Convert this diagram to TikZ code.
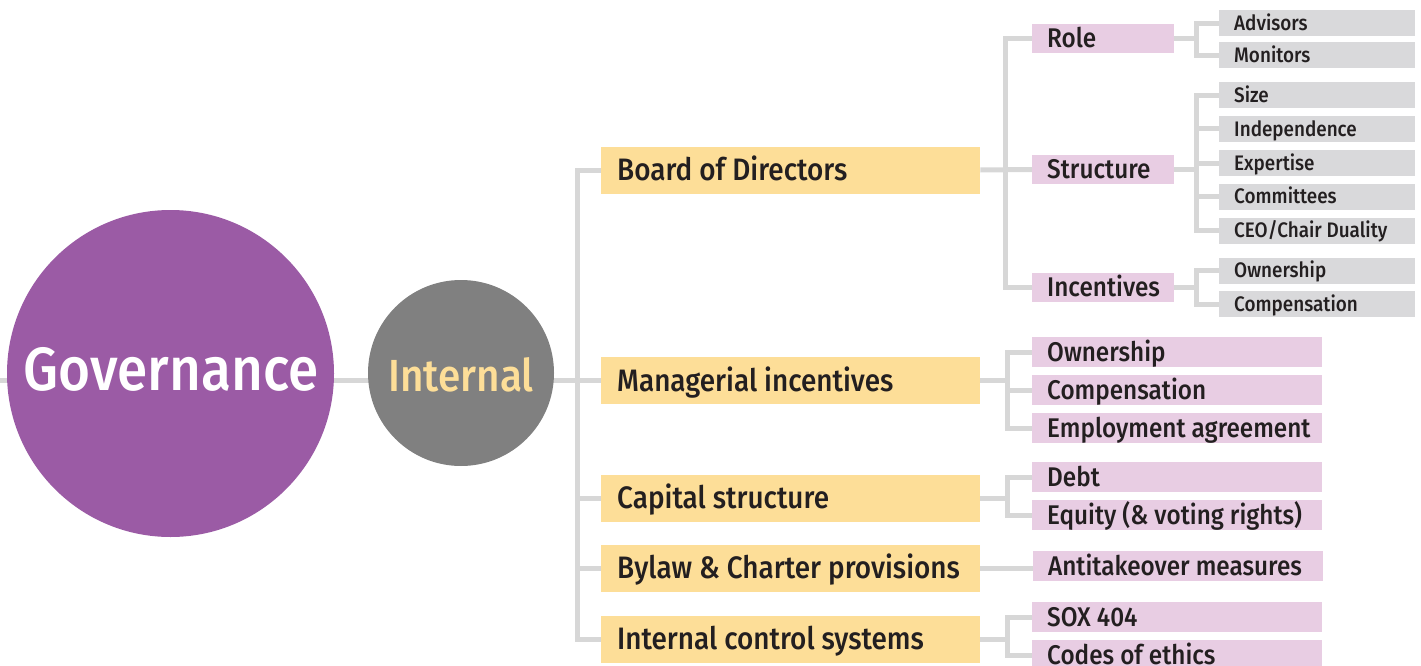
\documentclass[tikz,border=0pt]{standalone}
\usepackage{fontspec}
\setmainfont{Fira Sans Medium}[FakeStretch=0.9]
\usetikzlibrary{backgrounds}
\definecolor{govpurple}{HTML}{9B5BA5}
\definecolor{intgray}{HTML}{808080}
\definecolor{boxyellow}{HTML}{FDDE98}
\definecolor{boxpink}{HTML}{E8CDE3}
\definecolor{boxgray}{HTML}{D9D9DB}
\definecolor{linegray}{HTML}{D7D7D7}
\definecolor{ink}{HTML}{231F20}
\tikzset{
  hub/.style={circle, inner sep=0pt},
  conn/.style={draw=linegray, line width=5pt, line join=miter},
  % fixed-width box with its single line of text flush left
  flushbox/.style={anchor=west, inner ysep=0pt, text=ink, text depth=0pt,
    execute at begin node={\hbox to #1\bgroup},
    execute at end node={\hss\egroup}},
  mainbox/.style={flushbox=347pt, fill=boxyellow, minimum height=47pt,
    inner xsep=16pt, font=\fontsize{31}{31}\selectfont, text height=21pt},
  subbox/.style={flushbox=112pt, fill=boxpink, minimum height=29pt,
    inner xsep=15pt, font=\fontsize{27}{27}\selectfont, text height=18.6pt},
  widebox/.style={flushbox=260pt, fill=boxpink, minimum height=30pt,
    inner xsep=15pt, font=\fontsize{27}{27}\selectfont, text height=18.6pt},
  leafbox/.style={flushbox=166pt, fill=boxgray, minimum height=26pt,
    inner xsep=15pt, font=\fontsize{21}{21}\selectfont, text height=14.5pt},
}
\begin{document}
\begin{tikzpicture}[x=1pt, y=-1pt]
\useasboundingbox (0,0) rectangle (1421,666);
\clip (0,0) rectangle (1421,666);

% root and first level
\node[hub, fill=govpurple, minimum size=327pt] (gov) at (170.5,373.5) {};
\node[text=white, font=\fontsize{61}{61}\selectfont, text height=42pt, text depth=0pt, inner sep=0pt]
  (govlabel) at (171,369.5) {Governance};
\node[hub, fill=intgray, minimum size=186pt] (int) at (461,373) {};
\node[text=boxyellow, font=\fontsize{45}{45}\selectfont, text height=31pt, text depth=0pt, inner sep=0pt]
  (intlabel) at (461,376) {Internal};

\coordinate (lft) at (0,380);
\coordinate (spine) at (577,380);

% mechanisms
\node[mainbox] (bod) at (601,170) {Board of Directors};
\node[mainbox] (mgr) at (601,380.5) {Managerial incentives};
\node[mainbox] (cap) at (601,498) {Capital structure};
\node[mainbox] (bcp) at (601,568) {Bylaw \& Charter provisions};
\node[mainbox] (ics) at (601,639) {Internal control systems};

% board of directors
\node[subbox] (role) at (1032,38.5) {Role};
\node[subbox] (str) at (1032,169.5) {Structure};
\node[subbox] (binc) at (1032,287.5) {Incentives};
\coordinate (bs) at (1005,170);

\node[leafbox] (adv) at (1219,23.5) {Advisors};
\node[leafbox] (mon) at (1219,55.5) {Monitors};
\node[leafbox] (size) at (1219,95.5) {Size};
\node[leafbox] (indep) at (1219,129) {Independence};
\node[leafbox] (exp) at (1219,163) {Expertise};
\node[leafbox] (comm) at (1219,196.5) {Committees};
\node[leafbox] (ceo) at (1219,230.5) {CEO/Chair Duality};
\node[leafbox] (bown) at (1219,270.5) {Ownership};
\node[leafbox] (bcomp) at (1219,304) {Compensation};
\coordinate (ls) at (1196,170);

% remaining mechanisms
\node[widebox] (mown) at (1032,352) {Ownership};
\node[widebox] (mcomp) at (1032,390) {Compensation};
\node[widebox] (memp) at (1032,428) {Employment agreement};
\node[widebox] (debt) at (1032,477) {Debt};
\node[widebox] (eq) at (1032,515) {Equity (\& voting rights)};
\node[widebox] (anti) at (1033,566) {Antitakeover measures};
\node[widebox] (sox) at (1032,617) {SOX 404};
\node[widebox] (codes) at (1032,655) {Codes of ethics};
\coordinate (ms) at (1007,380);

\begin{scope}[on background layer]
  \draw[conn] (lft) -- (spine);
  \draw[conn] (bod.west) -- (bod.west -| spine) -- (ics.west -| spine) -- (ics.west);
  \draw[conn] (mgr.west) -- (mgr.west -| spine);
  \draw[conn] (cap.west) -- (cap.west -| spine);
  \draw[conn] (bcp.west) -- (bcp.west -| spine);

  \draw[conn] (bod.east) -- (str.west);
  \draw[conn] (role.west) -- (role.west -| bs) -- (binc.west -| bs) -- (binc.west);

  \draw[conn] (role.east) -- (role.east -| ls);
  \draw[conn] (adv.west) -- (adv.west -| ls) -- (mon.west -| ls) -- (mon.west);
  \draw[conn] (str.east) -- (str.east -| ls);
  \draw[conn] (size.west) -- (size.west -| ls) -- (ceo.west -| ls) -- (ceo.west);
  \draw[conn] (indep.west) -- (indep.west -| ls);
  \draw[conn] (exp.west) -- (exp.west -| ls);
  \draw[conn] (comm.west) -- (comm.west -| ls);
  \draw[conn] (binc.east) -- (binc.east -| ls);
  \draw[conn] (bown.west) -- (bown.west -| ls) -- (bcomp.west -| ls) -- (bcomp.west);

  \draw[conn] (mgr.east) -- (mgr.east -| ms);
  \draw[conn] (mown.west) -- (mown.west -| ms) -- (memp.west -| ms) -- (memp.west);
  \draw[conn] (mcomp.west) -- (mcomp.west -| ms);
  \draw[conn] (cap.east) -- (cap.east -| ms);
  \draw[conn] (debt.west) -- (debt.west -| ms) -- (eq.west -| ms) -- (eq.west);
  \draw[conn] (bcp.east) -- (bcp.east -| anti.west);
  \draw[conn] (ics.east) -- (ics.east -| ms);
  \draw[conn] (sox.west) -- (sox.west -| ms) -- (codes.west -| ms) -- (codes.west);
\end{scope}
\end{tikzpicture}
\end{document}
